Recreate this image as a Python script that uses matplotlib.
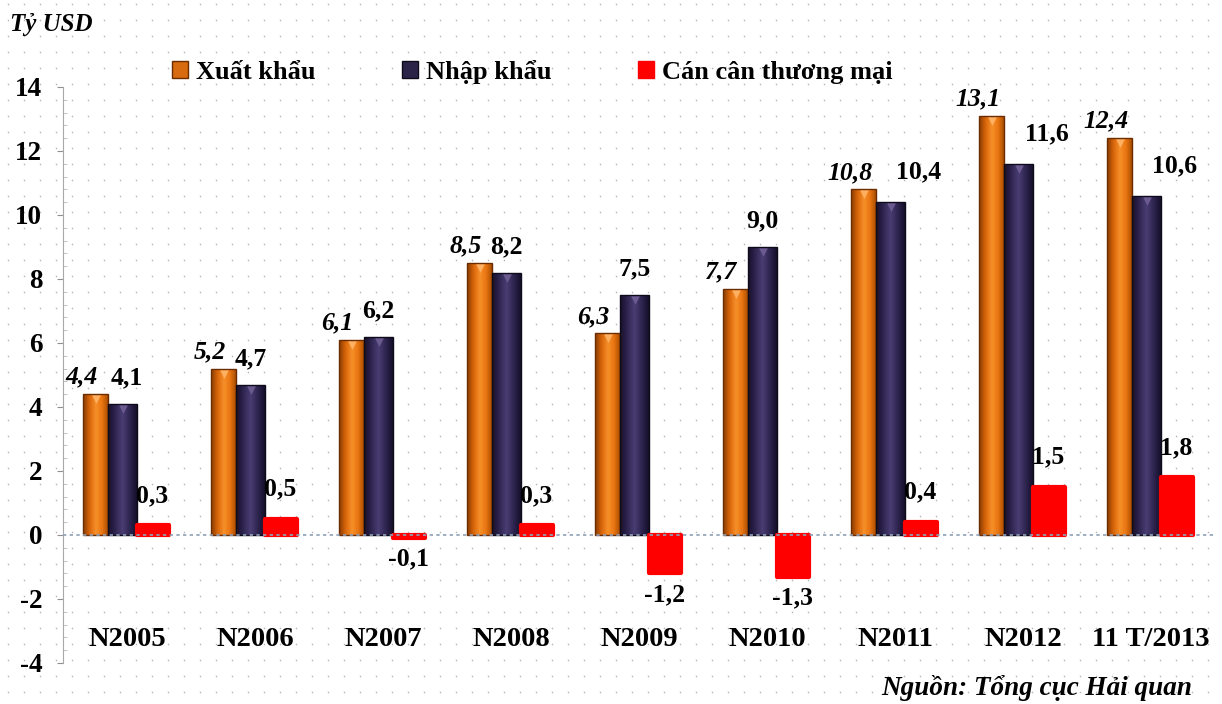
import numpy as np
import matplotlib.pyplot as plt
from matplotlib.colors import LinearSegmentedColormap
from matplotlib.patches import Patch
from matplotlib.transforms import offset_copy

plt.rcParams['font.family'] = ['Liberation Serif', 'DejaVu Serif']
plt.rcParams['font.weight'] = 'bold'

categories = ['N2005', 'N2006', 'N2007', 'N2008', 'N2009', 'N2010', 'N2011', 'N2012', '11 T/2013']
xuat_khau = [4.4, 5.2, 6.1, 8.5, 6.3, 7.7, 10.8, 13.1, 12.4]
nhap_khau = [4.1, 4.7, 6.2, 8.2, 7.5, 9.0, 10.4, 11.6, 10.6]
can_can = [0.3, 0.5, -0.1, 0.3, -1.2, -1.3, 0.4, 1.5, 1.8]
yticks = [-4, -2, 0, 2, 4, 6, 8, 10, 12, 14]

PX = 0.72  # points per pixel at dpi 100


def fmt(v):
    return f'{v:.1f}'.replace('.', ',')


fig = plt.figure(figsize=(12.22, 7.04), dpi=100)
fig.patch.set_facecolor('white')

# dotted background over the whole figure
bg = fig.add_axes([0, 0, 1, 1], zorder=-5)
gx, gy = np.meshgrid(np.arange(8, 1222, 16), np.arange(4, 704, 16))
bg.scatter(gx.ravel(), gy.ravel(), s=1.3, color='#b4b4b4', linewidths=0)
bg.set_xlim(0, 1222)
bg.set_ylim(704, 0)
bg.axis('off')

ax = fig.add_axes([63 / 1222, 1 - 663 / 704, 1152 / 1222, 576 / 704])
ax.patch.set_alpha(0)

x = np.arange(len(categories))

orange_cm = LinearSegmentedColormap.from_list('o', ['#8a3c00', '#d8650a', '#f7902a', '#e87410', '#a04800'])
purple_cm = LinearSegmentedColormap.from_list('p', ['#16102a', '#2e2550', '#4a3e72', '#2e2550', '#16102a'])
grad = np.linspace(0, 1, 64).reshape(1, -1)
tip_trans = offset_copy(ax.transData, fig=fig, y=-5, units='dots')


def shaded_bars(xs, vals, width, cmap, edge, tip):
    bars = ax.bar(xs, vals, width, align='edge', color='none', edgecolor=edge, linewidth=1.0, zorder=3)
    for b in bars:
        x0, y0 = b.get_x(), b.get_y()
        w, h = b.get_width(), b.get_height()
        im = ax.imshow(grad, cmap=cmap, extent=(x0, x0 + w, y0, y0 + h),
                       aspect='auto', zorder=2, interpolation='bilinear')
        im.set_clip_path(b)
    # small bevel tip just under the top of each bar
    centers = [b.get_x() + b.get_width() / 2 for b in bars]
    ax.scatter(centers, vals, marker='v', s=40, color=tip, linewidths=0, zorder=2.5,
               transform=tip_trans)
    return bars


b_xk = shaded_bars(x - 0.344, xuat_khau, 0.196, orange_cm, '#6a2c00', '#ffb060')
b_nk = shaded_bars(x - 0.148, nhap_khau, 0.226, purple_cm, '#0e0a1a', '#6a5a90')
b_cc = ax.bar(x + 0.075, can_can, 0.25, align='edge', color='#ff0000', edgecolor='#ff0000',
              linewidth=3, joinstyle='round', zorder=3)

ax.axhline(0, color='#8fa0b8', linestyle=(0, (2, 2)), linewidth=1.2, zorder=4)

# value labels
for xi, v in zip(x, xuat_khau):
    ax.annotate(fmt(v), (xi - 0.246, v), xytext=(-14 * PX, 17 * PX), textcoords='offset points',
                ha='center', va='center', fontsize=18.5, fontstyle='italic', zorder=5)
for i, (xi, v) in enumerate(zip(x, nhap_khau)):
    dx = 28 if i >= 6 else (4 if i == 0 else 0)
    dy = 30 if i >= 6 else 26
    ax.annotate(fmt(v), (xi - 0.035, v), xytext=(dx * PX, dy * PX), textcoords='offset points',
                ha='center', va='center', fontsize=18.5, zorder=5)
for xi, v in zip(x, can_can):
    dy = 30 if v >= 0 else -21
    ax.annotate(fmt(v), (xi + 0.2, v), xytext=(0, dy * PX), textcoords='offset points',
                ha='center', va='center', fontsize=18.5, zorder=5)

# category names sit inside the plot area, under the zero line
for xi, c in zip(x, categories):
    ax.text(xi, -3.25, c, ha='center', va='center', fontsize=20.5)

ax.set_xlim(-0.5, len(categories) - 0.5)
ax.set_ylim(-4, 14)
ax.set_yticks(yticks)
ax.set_yticklabels([str(t) for t in yticks], fontsize=19.5)
ax.set_yticks(np.arange(-4, 14.01, 0.4), minor=True)
ax.tick_params(axis='y', which='major', length=4, color='#909090', pad=11)
ax.tick_params(axis='y', which='minor', direction='in', length=3, color='#b8b8b8')
ax.set_xticks([])
for s in ['top', 'right', 'bottom']:
    ax.spines[s].set_visible(False)
ax.spines['left'].set_color('#a8a8a8')

handles = [Patch(facecolor='#d86a10', edgecolor='#6a2c00'),
           Patch(facecolor='#2c2348', edgecolor='#0e0a1a'),
           Patch(facecolor='#ff0000', edgecolor='#ff0000')]
fig.legend(handles, ['Xuất khẩu', 'Nhập khẩu', 'Cán cân thương mại'], ncol=3,
           loc='center left', bbox_to_anchor=(148 / 1222, 1 - 72 / 704), frameon=False,
           fontsize=19, handlelength=0.6, handleheight=0.6, handletextpad=0.3,
           columnspacing=3.3)

fig.text(10 / 1222, 1 - 24 / 704, 'Tỷ USD', fontsize=18, fontstyle='italic', va='center')
fig.text(1192 / 1222, 1 - 688 / 704, 'Nguồn: Tổng cục Hải quan', fontsize=19.5,
         fontstyle='italic', ha='right', va='center')

fig.savefig('out.png', dpi=100)
